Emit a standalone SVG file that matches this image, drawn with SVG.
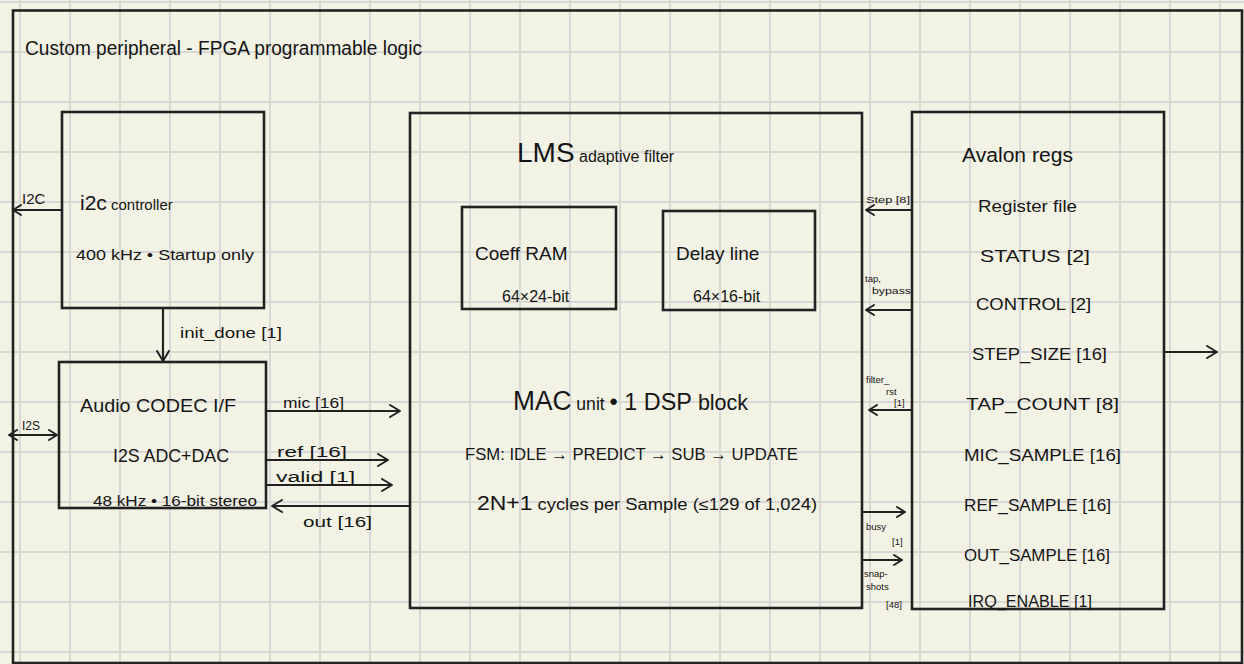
<svg xmlns="http://www.w3.org/2000/svg" width="1244" height="664" viewBox="0 0 1244 664">
<defs>
<pattern id="grid" x="19" y="1" width="50" height="50" patternUnits="userSpaceOnUse">
<path d="M0,1 H50 M1,0 V50" fill="none" stroke="#d9d8d6" stroke-width="2"/>
</pattern>
<marker id="ah" viewBox="0 0 12 14" refX="11" refY="7" markerWidth="12" markerHeight="14" markerUnits="userSpaceOnUse" orient="auto-start-reverse">
<path d="M1,1 L11,7 L1,13" fill="none" stroke="#222" stroke-width="2" stroke-linecap="round" stroke-linejoin="round"/>
</marker>
<marker id="ahs" viewBox="0 0 10 12" refX="9" refY="6" markerWidth="10" markerHeight="12" markerUnits="userSpaceOnUse" orient="auto-start-reverse">
<path d="M1,1 L9,6 L1,11" fill="none" stroke="#222" stroke-width="2" stroke-linecap="round" stroke-linejoin="round"/>
</marker>
</defs>
<style>
.box{fill:none;stroke:#222;stroke-width:2.6}
.ln{fill:none;stroke:#222;stroke-width:2.2}
.t{font-family:"Liberation Sans","DejaVu Sans",sans-serif;fill:#151515}
.s{font-size:9.5px}
.m{font-size:14px}
.r{font-size:17px}
</style>
<rect width="1244" height="664" fill="#f3f3e5"/>
<rect width="1244" height="664" fill="url(#grid)"/>
<rect x="13" y="10.5" width="1229" height="652.5" class="box"/>
<text class="t" x="25" y="55" font-size="20" textLength="397" lengthAdjust="spacingAndGlyphs">Custom peripheral - FPGA programmable logic</text>

<g id="i2c">
<rect x="62" y="112" width="202" height="196" class="box"/>
<text class="t" x="80" y="210"><tspan font-size="21">i2c</tspan><tspan font-size="15"> controller</tspan></text>
<text class="t" x="76" y="260" font-size="15" textLength="178" lengthAdjust="spacingAndGlyphs">400 kHz • Startup only</text>
</g>

<g id="codec">
<rect x="59" y="362" width="207" height="146" class="box"/>
<text class="t" x="80" y="412" font-size="19" textLength="156" lengthAdjust="spacingAndGlyphs">Audio CODEC I/F</text>
<text class="t" x="113" y="462" font-size="18" textLength="116" lengthAdjust="spacingAndGlyphs">I2S ADC+DAC</text>
<text class="t" x="93" y="506" font-size="15" textLength="164" lengthAdjust="spacingAndGlyphs">48 kHz • 16-bit stereo</text>
</g>

<g id="lms">
<rect x="410" y="113" width="452" height="495" class="box"/>
<text class="t" x="517" y="162"><tspan font-size="28">LMS</tspan><tspan font-size="16"> adaptive filter</tspan></text>
<g id="coeff">
<rect x="462" y="207" width="154" height="102" class="box"/>
<text class="t" x="475" y="260" font-size="19">Coeff RAM</text>
<text class="t" x="502" y="302" font-size="16">64×24-bit</text>
</g>
<g id="delay">
<rect x="663" y="211" width="152" height="99" class="box"/>
<text class="t" x="676" y="260" font-size="19">Delay line</text>
<text class="t" x="693" y="302" font-size="16">64×16-bit</text>
</g>
<text class="t" x="513" y="410" textLength="235" lengthAdjust="spacingAndGlyphs"><tspan font-size="27">MAC</tspan><tspan font-size="18"> unit </tspan><tspan font-size="24">• 1 DSP </tspan><tspan font-size="22">block</tspan></text>
<text class="t" x="465" y="460" font-size="17" textLength="333" lengthAdjust="spacingAndGlyphs">FSM: IDLE → PREDICT → SUB → UPDATE</text>
<text class="t" x="477" y="510" font-size="16" textLength="340" lengthAdjust="spacingAndGlyphs"><tspan font-size="20">2N+1</tspan> cycles per Sample  (≤129 of 1,024)</text>
</g>

<g id="avalon">
<rect x="912" y="112" width="252" height="497" class="box"/>
<text class="t" x="962" y="162" font-size="20" textLength="111" lengthAdjust="spacingAndGlyphs">Avalon regs</text>
<text class="t" x="978" y="212" font-size="17" textLength="99" lengthAdjust="spacingAndGlyphs">Register file</text>
<text class="t r" x="980" y="262" textLength="110" lengthAdjust="spacingAndGlyphs">STATUS [2]</text>
<text class="t r" x="976" y="310" textLength="115" lengthAdjust="spacingAndGlyphs">CONTROL [2]</text>
<text class="t r" x="972" y="360" textLength="135" lengthAdjust="spacingAndGlyphs">STEP_SIZE [16]</text>
<text class="t r" x="966" y="410" textLength="153" lengthAdjust="spacingAndGlyphs">TAP_COUNT [8]</text>
<text class="t r" x="964" y="461" textLength="157" lengthAdjust="spacingAndGlyphs">MIC_SAMPLE [16]</text>
<text class="t r" x="964" y="511" textLength="147" lengthAdjust="spacingAndGlyphs">REF_SAMPLE [16]</text>
<text class="t r" x="964" y="561" textLength="146" lengthAdjust="spacingAndGlyphs">OUT_SAMPLE [16]</text>
<text class="t r" x="968" y="607" textLength="124" lengthAdjust="spacingAndGlyphs">IRQ_ENABLE [1]</text>
</g>

<g id="connectors">
<line x1="62" y1="210" x2="13" y2="210" class="ln" marker-end="url(#ahs)"/>
<text class="t" x="22" y="204" font-size="15">I2C</text>
<line x1="9" y1="435" x2="57" y2="435" class="ln" marker-start="url(#ahs)" marker-end="url(#ahs)"/>
<text class="t" x="22" y="430" font-size="12">I2S</text>
<line x1="163" y1="308" x2="163" y2="361" class="ln" marker-end="url(#ah)"/>
<text class="t m" x="180" y="338" textLength="102" lengthAdjust="spacingAndGlyphs">init_done [1]</text>
<line x1="266" y1="411" x2="400" y2="411" class="ln" marker-end="url(#ah)"/>
<text class="t m" x="283" y="408" textLength="61" lengthAdjust="spacingAndGlyphs">mic [16]</text>
<line x1="266" y1="460" x2="388" y2="460" class="ln" marker-end="url(#ah)"/>
<text class="t m" x="277" y="457" textLength="70" lengthAdjust="spacingAndGlyphs">ref [16]</text>
<line x1="266" y1="485" x2="392" y2="485" class="ln" marker-end="url(#ah)"/>
<text class="t m" x="276" y="482" textLength="79" lengthAdjust="spacingAndGlyphs">valid [1]</text>
<line x1="410" y1="506" x2="272" y2="506" class="ln" marker-end="url(#ah)"/>
<text class="t m" x="303" y="527" textLength="69" lengthAdjust="spacingAndGlyphs">out [16]</text>

<line x1="912" y1="210" x2="866" y2="210" class="ln" marker-end="url(#ahs)"/>
<text class="t s" x="866" y="203" textLength="44" lengthAdjust="spacingAndGlyphs">Step [8]</text>
<line x1="912" y1="310" x2="866" y2="310" class="ln" marker-end="url(#ahs)"/>
<text class="t s" x="865" y="282">tap,</text>
<text class="t s" x="872" y="294" textLength="39" lengthAdjust="spacingAndGlyphs">bypass</text>
<line x1="912" y1="410" x2="869" y2="410" class="ln" marker-end="url(#ahs)"/>
<text class="t s" x="866" y="383">filter_</text>
<text class="t s" x="886" y="395">rst</text>
<text class="t s" x="894" y="406">[1]</text>
<line x1="862" y1="512" x2="905" y2="512" class="ln" marker-end="url(#ahs)"/>
<text class="t s" x="866" y="530">busy</text>
<text class="t s" x="892" y="545">[1]</text>
<line x1="862" y1="560" x2="902" y2="560" class="ln" marker-end="url(#ahs)"/>
<text class="t s" x="864" y="577">snap-</text>
<text class="t s" x="866" y="590">shots</text>
<text class="t s" x="886" y="608">[48]</text>
<line x1="1164" y1="352" x2="1217" y2="352" class="ln" marker-end="url(#ah)"/>
</g>
</svg>
